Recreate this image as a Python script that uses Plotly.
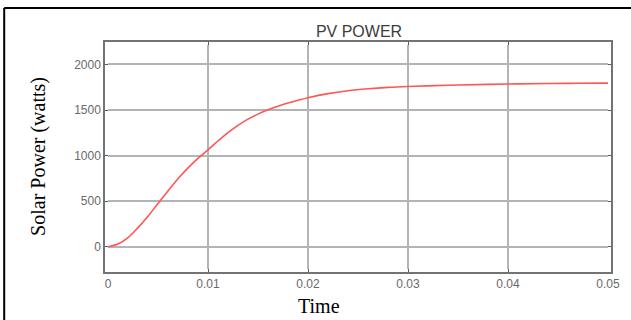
import plotly.graph_objects as go

time_s = [0, 0.001, 0.002, 0.003, 0.004, 0.005, 0.006, 0.007, 0.008, 0.009, 0.010,
          0.011, 0.012, 0.013, 0.014, 0.015, 0.016, 0.017, 0.018, 0.019, 0.020,
          0.022, 0.024, 0.026, 0.028, 0.030, 0.032, 0.035, 0.038, 0.041, 0.044,
          0.047, 0.050]
power_w = [0, 30, 100, 210, 335, 475, 612, 745, 865, 970, 1062,
           1160, 1252, 1332, 1400, 1455, 1502, 1542, 1577, 1607, 1635,
           1680, 1712, 1733, 1748, 1758, 1765, 1774, 1781, 1787, 1791,
           1793, 1795]
x_ticks = [0, 0.01, 0.02, 0.03, 0.04, 0.05]
x_tick_labels = ["0", "0.01", "0.02", "0.03", "0.04", "0.05"]
y_ticks = [0, 500, 1000, 1500, 2000]

W, H = 631, 320
L, R, T, B = 107.5, 608.5, 44.5, 269.0

fig = go.Figure()
fig.add_trace(go.Scatter(x=time_s, y=power_w, mode="lines",
                         line=dict(color="rgb(255,85,85)", width=1.6, shape="spline", smoothing=1.0),
                         hoverinfo="skip", showlegend=False))

axis_common = dict(showline=True, linecolor="rgb(115,115,115)", linewidth=1.5, mirror="allticks",
                   showgrid=True, gridcolor="rgb(180,180,180)", gridwidth=1.5,
                   ticks="inside", ticklen=3, tickcolor="rgb(90,90,90)", tickwidth=1,
                   zeroline=False,
                   tickfont=dict(family="Liberation Sans, Arial, sans-serif", size=12, color="rgb(105,105,105)"))

fig.update_xaxes(range=[0, 0.05], tickvals=x_ticks, ticktext=x_tick_labels, **axis_common)
fig.update_yaxes(range=[-244, 2213], tickvals=y_ticks, **axis_common)

pw = R - L
ph = B - T
def px(x):
    return (x - L) / pw
def py(y):
    return (B - y) / ph

fig.update_layout(
    width=W, height=H,
    margin=dict(l=L, r=W - R, t=T, b=H - B, pad=3),
    paper_bgcolor="white", plot_bgcolor="white",
    title=dict(text="PV POWER", x=359 / W, xref="container", xanchor="center",
               y=1 - 31 / H, yref="container", yanchor="middle",
               font=dict(family="Liberation Sans, Arial, sans-serif", size=16, color="rgb(60,60,60)")),
    shapes=[
        dict(type="line", xref="paper", yref="paper", x0=px(3.5), x1=px(640), y0=py(7.5), y1=py(7.5),
             line=dict(color="black", width=2)),
        dict(type="line", xref="paper", yref="paper", x0=px(3.5), x1=px(3.5), y0=py(7.5), y1=py(330),
             line=dict(color="black", width=2)),
    ],
    annotations=[
        dict(text="Solar Power (watts)", xref="paper", yref="paper", x=px(38), y=py(156),
             xanchor="center", yanchor="middle", textangle=-90, showarrow=False,
             font=dict(family="Liberation Serif, Times New Roman, serif", size=20, color="black")),
        dict(text="Time", xref="paper", yref="paper", x=px(319), y=py(306),
             xanchor="center", yanchor="middle", showarrow=False,
             font=dict(family="Liberation Serif, Times New Roman, serif", size=20, color="black")),
    ],
)

fig.write_html("out.html")
